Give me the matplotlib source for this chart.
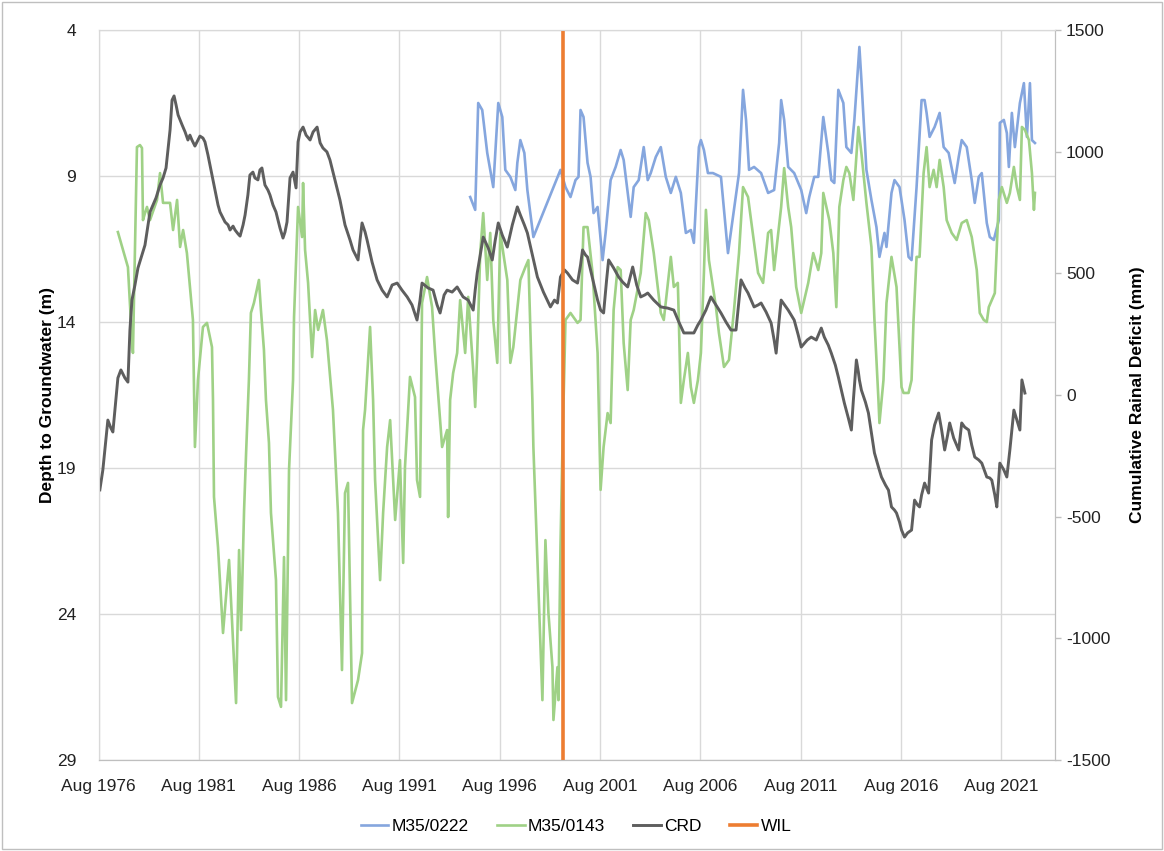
import matplotlib
matplotlib.use('Agg')
import matplotlib.pyplot as plt
from matplotlib import font_manager
from matplotlib.patches import Rectangle

# --- data (decimal years) ---
# M35/0222 depth to groundwater (m)
m0222_t = [1995.11, 1995.36, 1995.51, 1995.71, 1995.96, 1996.26, 1996.51, 1996.71, 1996.86, 1997.11,
           1997.36, 1997.46, 1997.61, 1997.81, 1997.96, 1998.26, 1999.61, 1999.86, 2000.11, 2000.36,
           2000.51, 2000.61, 2000.76, 2000.96, 2001.11, 2001.26, 2001.46, 2001.71, 2001.86, 2002.11,
           2002.36, 2002.61, 2002.76, 2002.96, 2003.11, 2003.26, 2003.51, 2003.76, 2003.96, 2004.11,
           2004.36, 2004.61, 2004.86, 2005.11, 2005.36, 2005.61, 2005.86, 2006.11, 2006.26, 2006.51,
           2006.61, 2006.76, 2006.96, 2007.21, 2007.61, 2007.96, 2008.26, 2008.51, 2008.71, 2008.86,
           2009.01, 2009.26, 2009.61, 2009.96, 2010.26, 2010.51, 2010.61, 2010.76, 2010.96, 2011.26,
           2011.61, 2011.86, 2012.01, 2012.26, 2012.46, 2012.71, 2012.96, 2013.11, 2013.26, 2013.46,
           2013.71, 2013.86, 2014.11, 2014.26, 2014.51, 2014.61, 2014.86, 2015.11, 2015.36, 2015.51,
           2015.76, 2015.86, 2016.11, 2016.26, 2016.51, 2016.76, 2016.96, 2017.11, 2017.36, 2017.61,
           2017.76, 2017.86, 2018.01, 2018.26, 2018.51, 2018.71, 2018.96, 2019.26, 2019.46, 2019.61,
           2019.86, 2020.11, 2020.26, 2020.46, 2020.61, 2020.86, 2021.01, 2021.21, 2021.46, 2021.51,
           2021.71, 2021.86, 2021.96, 2022.11, 2022.26, 2022.51, 2022.71, 2022.86, 2023.01, 2023.11,
           2023.26]
m0222_d = [9.72, 10.16, 6.50, 6.74, 8.21, 9.38, 6.50, 6.98, 8.79, 9.03,
           9.48, 8.55, 7.77, 8.21, 9.48, 11.09, 8.79, 9.38, 9.72, 9.14,
           9.03, 6.74, 6.98, 8.55, 9.03, 10.27, 10.06, 11.88, 10.95, 9.14,
           8.69, 8.11, 8.45, 9.58, 10.40, 9.38, 9.14, 8.01, 9.14, 8.90,
           8.35, 8.01, 9.03, 9.58, 9.03, 9.58, 10.95, 10.85, 11.29, 8.01,
           7.77, 8.11, 8.90, 8.90, 9.03, 11.64, 10.16, 8.90, 6.05, 7.08,
           8.79, 8.69, 8.90, 9.58, 9.48, 7.87, 6.40, 7.08, 8.69, 8.90,
           9.48, 10.27, 9.72, 9.03, 9.03, 6.98, 8.21, 9.14, 9.24, 6.05,
           6.50, 8.01, 8.21, 7.08, 4.58, 5.71, 8.79, 9.82, 10.75, 11.77,
           10.95, 11.43, 9.58, 9.14, 9.38, 10.51, 11.77, 11.88, 9.38, 6.40,
           6.40, 6.84, 7.66, 7.32, 6.84, 8.01, 8.21, 9.24, 8.35, 7.77,
           8.01, 9.14, 9.92, 9.03, 8.90, 10.61, 11.09, 11.19, 10.51, 7.18,
           7.08, 7.53, 8.69, 6.84, 8.01, 6.50, 5.82, 7.66, 5.82, 7.77,
           7.87]

# M35/0143 depth to groundwater (m)
m0143_t = [1977.55, 1978.05, 1978.25, 1978.30, 1978.50, 1978.65, 1978.75, 1978.80, 1978.90, 1979.00,
           1979.15, 1979.50, 1979.65, 1979.80, 1980.15, 1980.30, 1980.50, 1980.65, 1980.80, 1980.99,
           1981.14, 1981.29, 1981.39, 1981.54, 1981.79, 1981.99, 1982.24, 1982.29, 1982.34, 1982.54,
           1982.79, 1983.09, 1983.44, 1983.59, 1983.69, 1983.84, 1983.94, 1984.08, 1984.18, 1984.33,
           1984.58, 1984.68, 1984.83, 1984.93, 1985.08, 1985.18, 1985.43, 1985.53, 1985.68, 1985.83,
           1985.93, 1986.08, 1986.28, 1986.33, 1986.53, 1986.73, 1986.78, 1986.88, 1987.03, 1987.23,
           1987.38, 1987.53, 1987.77, 1987.97, 1988.27, 1988.52, 1988.72, 1988.87, 1989.02, 1989.22,
           1989.52, 1989.72, 1989.77, 1989.87, 1990.12, 1990.27, 1990.37, 1990.62, 1990.77, 1990.97,
           1991.12, 1991.37, 1991.61, 1991.77, 1991.86, 1992.01, 1992.11, 1992.36, 1992.46, 1992.61,
           1992.71, 1992.96, 1993.21, 1993.36, 1993.71, 1993.96, 1994.01, 1994.11, 1994.26, 1994.46,
           1994.61, 1994.86, 1995.01, 1995.26, 1995.36, 1995.46, 1995.61, 1995.76, 1995.96, 1996.11,
           1996.26, 1996.46, 1996.61, 1996.76, 1996.96, 1997.11, 1997.26, 1997.61, 1997.86, 1998.01,
           1998.21, 1998.26, 1998.51, 1998.71, 1998.86, 1999.01, 1999.21, 1999.26, 1999.46, 1999.51,
           1999.61, 1999.71, 1999.86, 2000.11, 2000.46, 2000.61, 2000.76, 2000.96, 2001.21, 2001.46,
           2001.61, 2001.76, 2001.96, 2002.11, 2002.26, 2002.46, 2002.61, 2002.76, 2002.96, 2003.11,
           2003.26, 2003.61, 2003.86, 2004.01, 2004.26, 2004.46, 2004.61, 2004.76, 2005.11, 2005.26,
           2005.46, 2005.51, 2005.61, 2005.76, 2005.96, 2006.11, 2006.26, 2006.46, 2006.61, 2006.76,
           2006.86, 2007.01, 2007.21, 2007.36, 2007.51, 2007.76, 2008.01, 2008.26, 2008.51, 2008.71,
           2008.96, 2009.11, 2009.46, 2009.71, 2009.96, 2010.11, 2010.26, 2010.61, 2010.76, 2010.96,
           2011.11, 2011.36, 2011.61, 2011.96, 2012.21, 2012.46, 2012.61, 2012.71, 2013.01, 2013.21,
           2013.36, 2013.51, 2013.71, 2013.86, 2014.01, 2014.21, 2014.46, 2014.61, 2014.86, 2015.11,
           2015.26, 2015.46, 2015.51, 2015.71, 2015.86, 2016.11, 2016.36, 2016.61, 2016.71, 2016.96,
           2017.11, 2017.21, 2017.36, 2017.51, 2017.71, 2017.86, 2018.01, 2018.21, 2018.36, 2018.51,
           2018.71, 2018.86, 2019.11, 2019.36, 2019.61, 2019.86, 2020.11, 2020.36, 2020.51, 2020.71,
           2020.86, 2020.96, 2021.26, 2021.46, 2021.61, 2021.86, 2022.01, 2022.21, 2022.36, 2022.51,
           2022.61, 2022.76, 2022.96, 2023.11, 2023.21, 2023.26]
m0143_d = [10.92, 12.12, 14.62, 15.06, 8.01, 7.94, 8.04, 10.51, 10.27, 10.06,
           10.51, 9.82, 8.90, 9.92, 9.92, 10.85, 9.82, 11.43, 10.85, 11.64,
           12.80, 13.93, 18.28, 15.99, 14.17, 14.03, 14.86, 16.67, 19.99, 21.71,
           24.65, 22.15, 27.05, 21.81, 24.55, 20.44, 18.49, 15.99, 13.69, 13.35,
           12.56, 13.59, 14.96, 16.67, 18.14, 20.54, 22.84, 26.84, 27.18, 22.05,
           26.95, 19.07, 15.99, 13.83, 10.06, 11.09, 9.24, 11.53, 12.66, 15.20,
           13.59, 14.27, 13.59, 14.62, 17.01, 20.54, 25.92, 19.86, 19.51, 27.05,
           26.26, 25.34, 17.70, 17.01, 14.17, 16.67, 19.41, 22.84, 20.54, 18.28,
           17.36, 20.78, 18.73, 22.25, 18.97, 17.12, 15.88, 16.57, 19.41, 19.99,
           13.35, 12.46, 13.49, 15.06, 18.28, 17.70, 20.68, 16.67, 15.75, 15.06,
           13.25, 15.06, 13.14, 15.64, 16.91, 15.06, 11.64, 10.27, 12.56, 10.95,
           13.93, 15.40, 10.95, 11.64, 12.56, 15.40, 14.86, 12.56, 12.12, 11.88,
           16.67, 18.28, 23.08, 26.95, 21.47, 23.97, 25.82, 27.63, 25.82, 26.95,
           21.71, 18.28, 13.93, 13.69, 14.03, 13.93, 10.75, 10.75, 12.32, 15.06,
           19.75, 18.28, 17.12, 17.46, 13.59, 12.12, 12.22, 14.72, 16.33, 13.93,
           13.59, 12.32, 10.27, 10.51, 11.64, 12.80, 13.69, 13.93, 11.77, 12.80,
           12.66, 13.93, 16.77, 15.99, 15.06, 16.23, 16.77, 15.99, 15.06, 12.32,
           10.16, 11.88, 12.80, 13.49, 14.38, 15.54, 15.30, 13.59, 11.64, 9.38,
           9.72, 10.51, 12.32, 12.66, 10.95, 10.85, 12.22, 10.06, 8.73, 10.06,
           10.75, 12.80, 13.69, 12.66, 11.64, 12.22, 11.64, 9.58, 10.51, 11.64,
           13.49, 10.06, 9.14, 8.69, 8.90, 9.82, 7.32, 8.21, 9.92, 11.43,
           13.93, 16.67, 17.46, 15.99, 13.35, 11.77, 12.80, 16.23, 16.43, 16.43,
           15.99, 13.93, 11.77, 11.77, 8.90, 8.01, 9.38, 8.79, 9.38, 8.45,
           9.38, 10.51, 10.95, 11.19, 10.61, 10.51, 11.09, 12.22, 13.69, 13.93,
           14.00, 13.49, 13.01, 9.82, 9.38, 9.92, 9.58, 8.69, 9.38, 9.82,
           7.32, 7.42, 7.77, 8.90, 10.16, 9.58]

# CRD cumulative rainfall deficit (mm)
crd_t = [1976.65, 1976.80, 1976.95, 1977.05, 1977.20, 1977.30, 1977.45, 1977.55, 1977.70, 1977.90,
         1978.05, 1978.15, 1978.25, 1978.40, 1978.55, 1978.75, 1978.90, 1979.05, 1979.15, 1979.30,
         1979.45, 1979.65, 1979.80, 1979.95, 1980.15, 1980.25, 1980.35, 1980.45, 1980.55, 1980.75,
         1980.90, 1981.04, 1981.14, 1981.24, 1981.39, 1981.54, 1981.64, 1981.79, 1981.89, 1982.04,
         1982.14, 1982.29, 1982.39, 1982.54, 1982.64, 1982.79, 1982.89, 1983.04, 1983.14, 1983.29,
         1983.39, 1983.54, 1983.64, 1983.79, 1983.89, 1984.03, 1984.13, 1984.28, 1984.38, 1984.53,
         1984.63, 1984.73, 1984.88, 1985.03, 1985.13, 1985.28, 1985.43, 1985.63, 1985.78, 1985.88,
         1985.98, 1986.13, 1986.28, 1986.43, 1986.53, 1986.63, 1986.78, 1986.93, 1987.13, 1987.28,
         1987.48, 1987.63, 1987.77, 1987.97, 1988.12, 1988.37, 1988.62, 1988.87, 1989.12, 1989.27,
         1989.52, 1989.62, 1989.72, 1989.87, 1989.97, 1990.22, 1990.47, 1990.72, 1990.97, 1991.22,
         1991.47, 1991.71, 1991.97, 1992.21, 1992.46, 1992.61, 1992.71, 1993.01, 1993.26, 1993.46,
         1993.61, 1993.81, 1993.96, 1994.21, 1994.46, 1994.61, 1994.76, 1995.01, 1995.26, 1995.36,
         1995.46, 1995.61, 1995.76, 1996.01, 1996.21, 1996.36, 1996.51, 1996.71, 1996.96, 1997.21,
         1997.46, 1997.61, 1997.81, 1997.96, 1998.21, 1998.46, 1998.76, 1999.11, 1999.31, 1999.46,
         1999.61, 1999.81, 1999.96, 2000.21, 2000.46, 2000.61, 2000.71, 2000.86, 2000.96, 2001.11,
         2001.26, 2001.46, 2001.61, 2001.76, 2001.91, 2002.01, 2002.26, 2002.51, 2002.71, 2002.96,
         2003.11, 2003.21, 2003.41, 2003.61, 2003.81, 2003.96, 2004.26, 2004.61, 2004.96, 2005.26,
         2005.51, 2005.76, 2006.01, 2006.26, 2006.46, 2006.61, 2006.86, 2007.11, 2007.36, 2007.61,
         2007.86, 2008.11, 2008.36, 2008.61, 2008.81, 2008.96, 2009.11, 2009.26, 2009.46, 2009.61,
         2009.86, 2010.11, 2010.26, 2010.36, 2010.51, 2010.61, 2010.96, 2011.26, 2011.46, 2011.61,
         2011.91, 2012.11, 2012.36, 2012.61, 2012.76, 2012.96, 2013.11, 2013.31, 2013.46, 2013.61,
         2013.76, 2013.96, 2014.11, 2014.21, 2014.36, 2014.46, 2014.51, 2014.61, 2014.81, 2014.96,
         2015.11, 2015.26, 2015.46, 2015.61, 2015.81, 2015.96, 2016.11, 2016.26, 2016.36, 2016.51,
         2016.61, 2016.76, 2016.91, 2017.11, 2017.26, 2017.41, 2017.51, 2017.61, 2017.76, 2017.86,
         2017.96, 2018.11, 2018.26, 2018.46, 2018.61, 2018.76, 2018.91, 2019.01, 2019.21, 2019.46,
         2019.61, 2019.76, 2019.96, 2020.11, 2020.26, 2020.46, 2020.61, 2020.86, 2021.01, 2021.11,
         2021.26, 2021.36, 2021.51, 2021.71, 2021.86, 2022.01, 2022.21, 2022.36, 2022.51, 2022.61,
         2022.76]
crd_mm = [-390, -308, -185, -103, -136, -152, -21, 70, 103, 70,
          53, 267, 390, 452, 522, 575, 616, 699, 752, 781,
          810, 863, 892, 933, 1089, 1212, 1229, 1192, 1151, 1110,
          1081, 1048, 1068, 1048, 1023, 1048, 1064, 1056, 1040, 986,
          945, 884, 842, 781, 752, 727, 711, 699, 678, 694,
          678, 662, 653, 699, 740, 822, 904, 916, 892, 884,
          925, 933, 863, 842, 822, 781, 752, 686, 645, 670,
          711, 892, 916, 851, 1040, 1081, 1101, 1068, 1048, 1081,
          1101, 1036, 1015, 999, 966, 884, 801, 699, 637, 596,
          555, 637, 707, 670, 637, 546, 473, 431, 403, 452,
          460, 431, 403, 370, 308, 390, 460, 440, 431, 370,
          337, 411, 431, 423, 444, 423, 403, 390, 349, 431,
          501, 575, 649, 604, 555, 637, 707, 657, 608, 699,
          773, 740, 699, 666, 575, 485, 423, 362, 390, 378,
          485, 514, 501, 473, 460, 534, 596, 575, 567, 514,
          460, 390, 349, 337, 473, 555, 522, 485, 464, 444,
          493, 526, 452, 403, 411, 419, 390, 362, 357, 349,
          300, 255, 255, 255, 288, 308, 349, 403, 370, 337,
          300, 267, 267, 473, 440, 419, 390, 362, 370, 378,
          341, 296, 226, 172, 308, 390, 349, 308, 247, 197,
          226, 238, 226, 275, 238, 205, 172, 123, 74, 20,
          -33, -95, -144, -21, 144, 94, 62, 20, -29, -74,
          -156, -238, -296, -337, -370, -391, -460, -473, -485, -522,
          -555, -584, -567, -555, -432, -452, -460, -411, -362, -382,
          -403, -185, -123, -74, -144, -226, -164, -115, -177, -226,
          -115, -132, -144, -206, -255, -267, -280, -337, -341, -350,
          -411, -460, -280, -308, -337, -226, -62, -103, -144, 62,
          8]

# WIL marker date
wil_t = 1999.72

tick_years = [1976, 1981, 1986, 1991, 1996, 2001, 2006, 2011, 2016, 2021]
tick_labels = ['Aug %d' % y for y in tick_years]
depth_ticks = [4, 9, 14, 19, 24, 29]
crd_ticks = [-1500, -1000, -500, 0, 500, 1000, 1500]

# --- fonts ---
names = {f.name for f in font_manager.fontManager.ttflist}
fam = 'Liberation Sans' if 'Liberation Sans' in names else 'DejaVu Sans'
plt.rcParams['font.family'] = fam
plt.rcParams['font.size'] = 12
plt.rcParams['axes.unicode_minus'] = False

c_blue = '#85A6DE'
c_green = '#9FD186'
c_gray = '#5E5E5E'
c_orange = '#ED7D31'
c_grid = '#D9D9D9'

fig = plt.figure(figsize=(11.64, 8.51), dpi=100)
ax = fig.add_axes([98.5 / 1164, 1 - 760 / 851, (1055 - 98.5) / 1164, 730 / 851])
ax2 = ax.twinx()

ax.plot(m0222_t, m0222_d, color=c_blue, lw=1.9, label='M35/0222')
ax.plot(m0143_t, m0143_d, color=c_green, lw=1.9, label='M35/0143')
ax2.plot(crd_t, crd_mm, color=c_gray, lw=2.1, label='CRD')
ax2.axvline(wil_t, color=c_orange, lw=2.6, label='WIL')

ax.set_xlim(1976 + 7 / 12, 2024.26)
ax.set_ylim(29, 4)
ax2.set_ylim(-1500, 1500)

ax.set_xticks([y + 7 / 12 for y in tick_years])
ax.set_xticklabels(tick_labels)
ax.set_yticks(depth_ticks)
ax2.set_yticks(crd_ticks)

ax.set_axisbelow(True)
ax.grid(True, color=c_grid, lw=1)

ax.tick_params(axis='x', length=0, pad=14, labelsize=12.5, colors='#222222')
ax.tick_params(axis='y', length=0, pad=16, labelsize=12.5, colors='#222222')
ax2.tick_params(axis='y', length=4, width=1, pad=4, labelsize=12.5, colors='#222222')
ax2.tick_params(axis='y', color='#BFBFBF')

for a in (ax, ax2):
    a.spines['top'].set_color(c_grid)
    a.spines['left'].set_color(c_grid)
    a.spines['bottom'].set_color('#BFBFBF')
    a.spines['right'].set_color('#BFBFBF')

ax.set_ylabel('Depth to Groundwater (m)', fontweight='bold', fontsize=12.5, labelpad=1)
ax2.set_ylabel('Cumulative Rainal Deficit (mm)', fontweight='bold', fontsize=12.5, labelpad=14)

h1, l1 = ax.get_legend_handles_labels()
h2, l2 = ax2.get_legend_handles_labels()
fig.legend(h1 + h2, l1 + l2, loc='center', bbox_to_anchor=(0.495, 0.029), ncol=4,
           frameon=False, handlelength=1.6, handletextpad=0.2, columnspacing=1.6,
           fontsize=12.5)

# chart area border
fig.add_artist(Rectangle((0.002, 0.002), 0.996, 0.996, transform=fig.transFigure,
                         fill=False, edgecolor='#BFBFBF', lw=1))

fig.savefig('out.png', dpi=100)
